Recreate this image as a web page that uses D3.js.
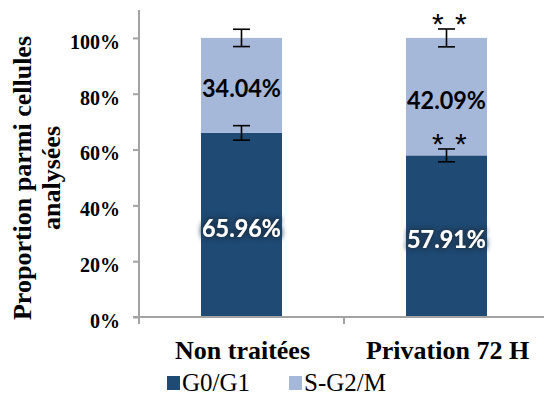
<!DOCTYPE html>
<html>
<head>
<meta charset="utf-8">
<script src="https://cdn.jsdelivr.net/npm/d3@7"></script>
<style>
  html, body { margin: 0; padding: 0; background: #fff; }
  svg { display: block; }
</style>
</head>
<body>
<svg id="chart" width="544" height="396"></svg>
<script>
// Cell-cycle phase distribution (stacked to 100%)
const categories = ["Non traitées", "Privation 72 H"];
const seriesNames = ["G0/G1", "S-G2/M"];
const g0g1 = [65.96, 57.91];
const sg2m = [34.04, 42.09];
const errG0g1 = [2.6, 2.3];
const errSg2m = [3.1, 3.2];
const starsG0g1 = ["", "* *"];
const starsSg2m = ["", "* *"];
const yTicks = [0, 20, 40, 60, 80, 100];

const colors = { "G0/G1": "#1F4A74", "S-G2/M": "#A5B8DA" };

const svg = d3.select("#chart");

const plot = { left: 139, right: 549, top: 10, bottom: 317 };

const x = d3.scaleBand().domain(categories).range([plot.left, plot.right]).padding(0);
const barW = x.bandwidth() * 0.395;
const y = d3.scaleLinear().domain([0, 110]).range([plot.bottom, plot.top]);

// Filter: dark soft halo behind the white labels
const defs = svg.append("defs");
const glow = defs.append("filter").attr("id", "halo")
  .attr("x", "-20%").attr("y", "-40%").attr("width", "140%").attr("height", "180%");
glow.append("feMorphology").attr("in", "SourceAlpha").attr("operator", "dilate").attr("radius", 1.5).attr("result", "d");
glow.append("feGaussianBlur").attr("in", "d").attr("stdDeviation", 2.5).attr("result", "b");
glow.append("feFlood").attr("flood-color", "#1A3550").attr("flood-opacity", 0.95);
glow.append("feComposite").attr("in2", "b").attr("operator", "in").attr("result", "s");
const mg = glow.append("feMerge");
mg.append("feMergeNode").attr("in", "s");
mg.append("feMergeNode").attr("in", "SourceGraphic");

// Stacked data
const rows = categories.map((c, i) => ({ cat: c, "G0/G1": g0g1[i], "S-G2/M": sg2m[i] }));
const stack = d3.stack().keys(seriesNames)(rows);

// Bars
svg.append("g").selectAll("g").data(stack).join("g")
  .attr("fill", d => colors[d.key])
  .selectAll("rect").data(d => d).join("rect")
  .attr("x", d => x(d.data.cat) + (x.bandwidth() - barW) / 2)
  .attr("width", barW)
  .attr("y", d => y(d[1]))
  .attr("height", d => y(d[0]) - y(d[1]));

// Axes
const axisColor = "#A3A3A3";
const yAxis = svg.append("g").attr("transform", `translate(${plot.left},0)`)
  .call(d3.axisLeft(y).tickValues(yTicks).tickSize(6).tickPadding(13).tickFormat(d => d + "%"));
yAxis.select(".domain").remove();
yAxis.selectAll(".tick line").attr("stroke", axisColor).attr("stroke-width", 2);
yAxis.selectAll(".tick text")
  .attr("font-family", "'Liberation Serif', 'Times New Roman', serif")
  .attr("font-weight", "bold").attr("font-size", 20).attr("fill", "#000")
  .attr("dy", "0.52em");
svg.append("line").attr("x1", plot.left).attr("x2", plot.left)
  .attr("y1", plot.top).attr("y2", plot.bottom + 7)
  .attr("stroke", axisColor).attr("stroke-width", 2);

const xAxis = svg.append("g").attr("transform", `translate(0,${plot.bottom})`);
xAxis.append("line").attr("x1", plot.left - 6).attr("x2", plot.right)
  .attr("stroke", axisColor).attr("stroke-width", 2);
xAxis.selectAll("line.tk").data(categories.map(c => x(c)).concat([plot.right])).join("line")
  .attr("class", "tk")
  .attr("x1", d => d).attr("x2", d => d).attr("y1", 0).attr("y2", 7)
  .attr("stroke", axisColor).attr("stroke-width", 2);
xAxis.selectAll("text").data(categories).join("text")
  .attr("x", d => x(d) + x.bandwidth() / 2 + 1)
  .attr("y", 42)
  .attr("text-anchor", "middle")
  .attr("font-family", "'Liberation Serif', 'Times New Roman', serif")
  .attr("font-weight", "bold").attr("font-size", 26).attr("fill", "#000")
  .text(d => d);

// Error bars
const errData = [];
categories.forEach((c, i) => {
  errData.push({ cat: c, v: g0g1[i], e: errG0g1[i], stars: starsG0g1[i] });
  errData.push({ cat: c, v: g0g1[i] + sg2m[i], e: errSg2m[i], stars: starsSg2m[i] });
});
const eg = svg.append("g").attr("stroke", "#000").attr("stroke-width", 1.6);
errData.forEach(d => {
  const cx = x(d.cat) + x.bandwidth() / 2;
  eg.append("line").attr("x1", cx).attr("x2", cx).attr("y1", y(d.v - d.e)).attr("y2", y(d.v + d.e));
  eg.append("line").attr("x1", cx - 8.5).attr("x2", cx + 8.5).attr("y1", y(d.v - d.e)).attr("y2", y(d.v - d.e));
  eg.append("line").attr("x1", cx - 8.5).attr("x2", cx + 8.5).attr("y1", y(d.v + d.e)).attr("y2", y(d.v + d.e));
});

// Significance marks
svg.append("g").selectAll("text").data(errData.filter(d => d.stars)).join("text")
  .attr("x", d => x(d.cat) + x.bandwidth() / 2 + 3.5)
  .attr("y", d => y(d.v + d.e) + 5)
  .attr("text-anchor", "middle")
  .attr("font-family", "'Liberation Sans', Arial, sans-serif")
  .attr("font-size", 30).attr("fill", "#000")
  .attr("letter-spacing", 1.5)
  .style("white-space", "pre")
  .text(d => d.stars);

// Value labels
const labelFont = "Lato, 'Open Sans', sans-serif";
stack.forEach(s => {
  svg.append("g").selectAll("text").data(s).join("text")
    .attr("x", d => x(d.data.cat) + x.bandwidth() / 2)
    .attr("y", d => y((d[0] + d[1]) / 2) + 3)
    .attr("dy", "0.36em")
    .attr("text-anchor", "middle")
    .attr("font-family", labelFont).attr("font-weight", "bold").attr("font-size", 25)
    .attr("textLength", 79).attr("lengthAdjust", "spacingAndGlyphs")
    .attr("fill", s.key === "G0/G1" ? "#fff" : "#000")
    .attr("filter", s.key === "G0/G1" ? "url(#halo)" : null)
    .text(d => (d[1] - d[0]).toFixed(2) + "%");
});

// Y axis title
const yt = svg.append("text")
  .attr("transform", "translate(31,178) rotate(-90)")
  .attr("text-anchor", "middle")
  .attr("font-family", "'Liberation Serif', 'Times New Roman', serif")
  .attr("font-weight", "bold").attr("font-size", 26).attr("fill", "#000");
yt.append("tspan").attr("x", 0).attr("dy", 0).text("Proportion parmi cellules");
yt.append("tspan").attr("x", 0).attr("dy", 29).text("analysées");

// Legend
const legendX = [167, 289];
const lg = svg.append("g").selectAll("g").data(seriesNames).join("g")
  .attr("transform", (d, i) => `translate(${legendX[i]},376)`);
lg.append("rect").attr("width", 13).attr("height", 14).attr("fill", d => colors[d]);
lg.append("text").attr("x", 15).attr("y", 15)
  .attr("font-family", "'Liberation Serif', 'Times New Roman', serif")
  .attr("font-size", 25).attr("fill", "#000")
  .text(d => d);
</script>
</body>
</html>
